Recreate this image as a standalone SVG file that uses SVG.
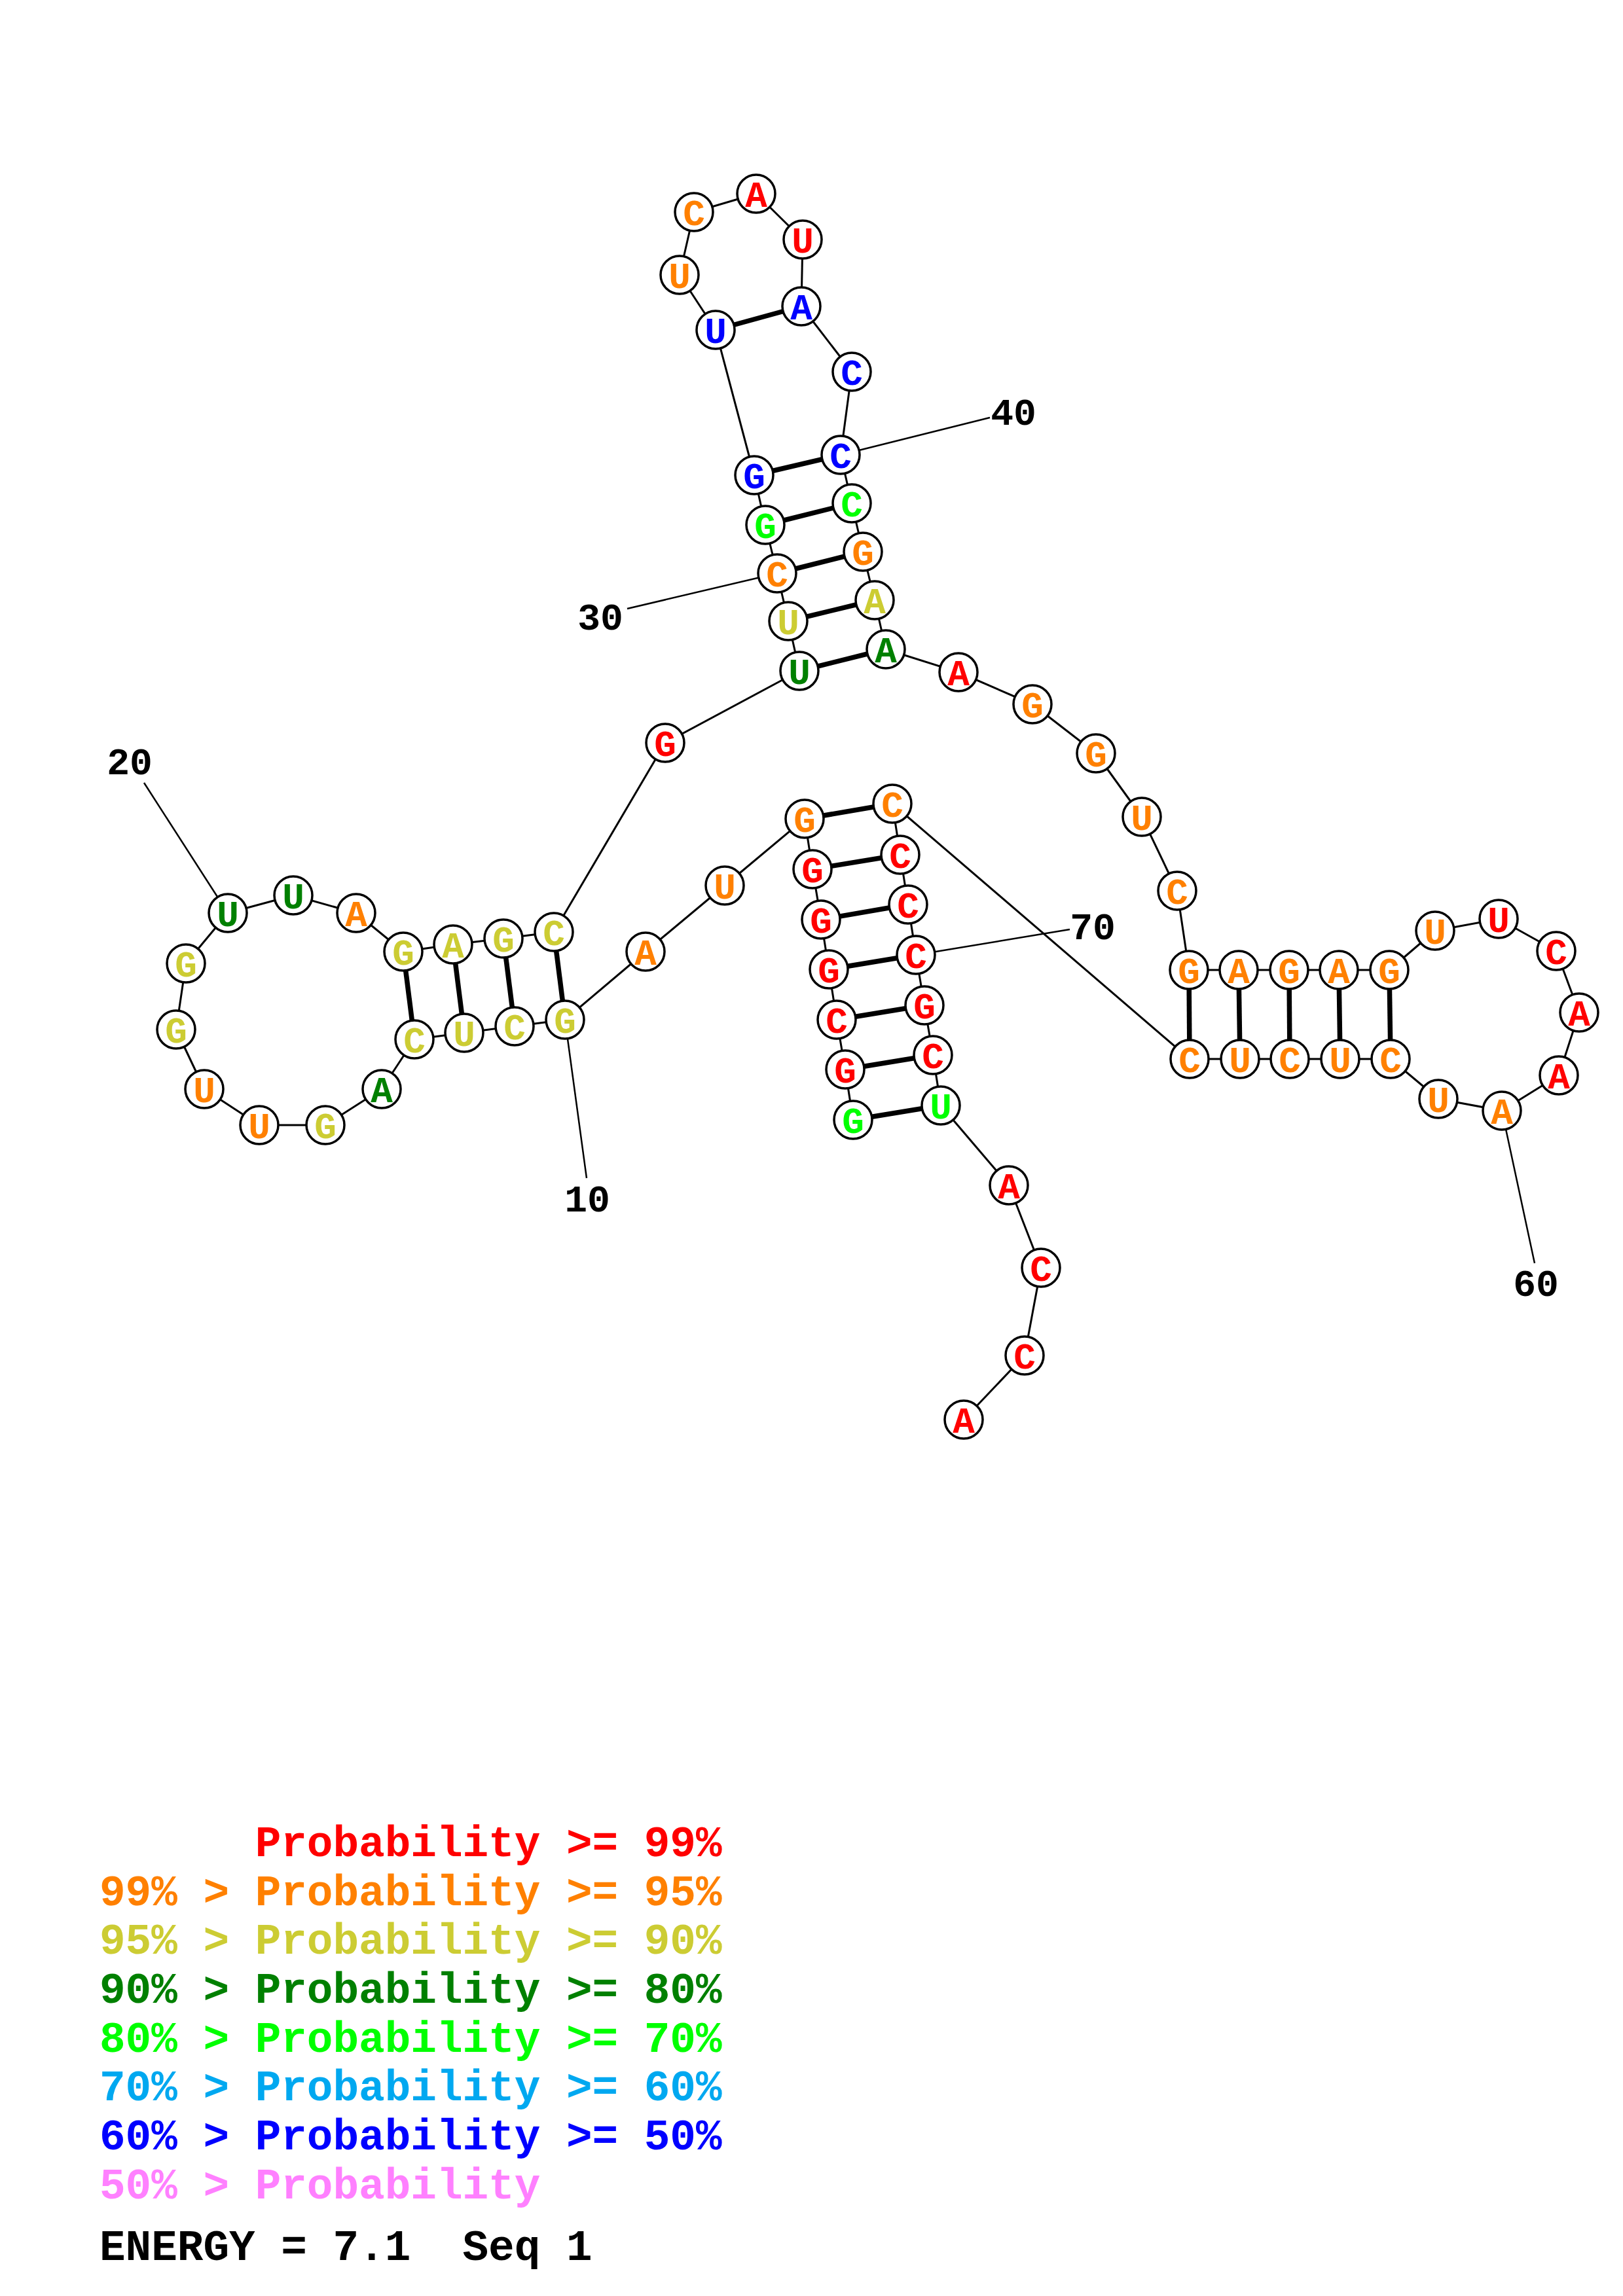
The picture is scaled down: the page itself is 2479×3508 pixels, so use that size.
<svg xmlns="http://www.w3.org/2000/svg" width="2479" height="3508" viewBox="0 0 2479 3508">
<style>
.bb{stroke:#000;stroke-width:3;fill:none}
.pr{stroke:#000;stroke-width:7.5;fill:none}
.lb{stroke:#000;stroke-width:2.5;fill:none}
circle{fill:#fff;stroke:#000;stroke-width:3.5}
.nt{font-family:"Liberation Mono","DejaVu Sans Mono",monospace;font-weight:bold;font-size:56px;text-anchor:middle}
.num{font-family:"Liberation Mono","DejaVu Sans Mono",monospace;font-weight:bold;font-size:58px;text-anchor:middle;fill:#000}
.lg{font-family:"Liberation Mono","DejaVu Sans Mono",monospace;font-weight:bold;font-size:66px}
.r{fill:#ff0000}.o{fill:#ff8000}.y{fill:#cccc33}.dg{fill:#008000}.lm{fill:#00ff00}.lbl{fill:#00a8f0}.b{fill:#0000ff}.p{fill:#ff80ff}.k{fill:#000}
</style>
<rect x="0" y="0" width="2479" height="3508" fill="#fff"/>
<g id="connectors">
<line class="bb" x1="1303" y1="1711" x2="1291" y2="1634"/>
<line class="bb" x1="1291" y1="1634" x2="1278" y2="1558"/>
<line class="bb" x1="1278" y1="1558" x2="1266" y2="1481"/>
<line class="bb" x1="1266" y1="1481" x2="1254" y2="1405"/>
<line class="bb" x1="1254" y1="1405" x2="1241" y2="1328"/>
<line class="bb" x1="1241" y1="1328" x2="1229" y2="1251"/>
<line class="bb" x1="1229" y1="1251" x2="1107" y2="1353"/>
<line class="bb" x1="1107" y1="1353" x2="986" y2="1454"/>
<line class="bb" x1="986" y1="1454" x2="863" y2="1558"/>
<line class="bb" x1="863" y1="1558" x2="786" y2="1568"/>
<line class="bb" x1="786" y1="1568" x2="709" y2="1578"/>
<line class="bb" x1="709" y1="1578" x2="633" y2="1588"/>
<line class="bb" x1="633" y1="1588" x2="583" y2="1664"/>
<line class="bb" x1="583" y1="1664" x2="497" y2="1719"/>
<line class="bb" x1="497" y1="1719" x2="396" y2="1719"/>
<line class="bb" x1="396" y1="1719" x2="312" y2="1664"/>
<line class="bb" x1="312" y1="1664" x2="269" y2="1573"/>
<line class="bb" x1="269" y1="1573" x2="284" y2="1472"/>
<line class="bb" x1="284" y1="1472" x2="348" y2="1395"/>
<line class="bb" x1="348" y1="1395" x2="448" y2="1368"/>
<line class="bb" x1="448" y1="1368" x2="544" y2="1395"/>
<line class="bb" x1="544" y1="1395" x2="616" y2="1454"/>
<line class="bb" x1="616" y1="1454" x2="692" y2="1443"/>
<line class="bb" x1="692" y1="1443" x2="769" y2="1434"/>
<line class="bb" x1="769" y1="1434" x2="846" y2="1424"/>
<line class="bb" x1="846" y1="1424" x2="1016" y2="1135"/>
<line class="bb" x1="1016" y1="1135" x2="1221" y2="1025"/>
<line class="bb" x1="1221" y1="1025" x2="1204" y2="949"/>
<line class="bb" x1="1204" y1="949" x2="1187" y2="876"/>
<line class="bb" x1="1187" y1="876" x2="1169" y2="802"/>
<line class="bb" x1="1169" y1="802" x2="1152" y2="726"/>
<line class="bb" x1="1152" y1="726" x2="1093" y2="504"/>
<line class="bb" x1="1093" y1="504" x2="1038" y2="420"/>
<line class="bb" x1="1038" y1="420" x2="1060" y2="324"/>
<line class="bb" x1="1060" y1="324" x2="1155" y2="296"/>
<line class="bb" x1="1155" y1="296" x2="1226" y2="366"/>
<line class="bb" x1="1226" y1="366" x2="1224" y2="468"/>
<line class="bb" x1="1224" y1="468" x2="1301" y2="568"/>
<line class="bb" x1="1301" y1="568" x2="1284" y2="695"/>
<line class="bb" x1="1284" y1="695" x2="1301" y2="769"/>
<line class="bb" x1="1301" y1="769" x2="1318" y2="843"/>
<line class="bb" x1="1318" y1="843" x2="1336" y2="917"/>
<line class="bb" x1="1336" y1="917" x2="1353" y2="992"/>
<line class="bb" x1="1353" y1="992" x2="1464" y2="1027"/>
<line class="bb" x1="1464" y1="1027" x2="1577" y2="1076"/>
<line class="bb" x1="1577" y1="1076" x2="1674" y2="1151"/>
<line class="bb" x1="1674" y1="1151" x2="1744" y2="1248"/>
<line class="bb" x1="1744" y1="1248" x2="1798" y2="1361"/>
<line class="bb" x1="1798" y1="1361" x2="1816" y2="1482"/>
<line class="bb" x1="1816" y1="1482" x2="1892" y2="1482"/>
<line class="bb" x1="1892" y1="1482" x2="1969" y2="1482"/>
<line class="bb" x1="1969" y1="1482" x2="2045" y2="1482"/>
<line class="bb" x1="2045" y1="1482" x2="2122" y2="1482"/>
<line class="bb" x1="2122" y1="1482" x2="2192" y2="1422"/>
<line class="bb" x1="2192" y1="1422" x2="2289" y2="1404"/>
<line class="bb" x1="2289" y1="1404" x2="2377" y2="1453"/>
<line class="bb" x1="2377" y1="1453" x2="2412" y2="1547"/>
<line class="bb" x1="2412" y1="1547" x2="2381" y2="1643"/>
<line class="bb" x1="2381" y1="1643" x2="2294" y2="1697"/>
<line class="bb" x1="2294" y1="1697" x2="2197" y2="1679"/>
<line class="bb" x1="2197" y1="1679" x2="2124" y2="1618"/>
<line class="bb" x1="2124" y1="1618" x2="2047" y2="1618"/>
<line class="bb" x1="2047" y1="1618" x2="1970" y2="1618"/>
<line class="bb" x1="1970" y1="1618" x2="1894" y2="1618"/>
<line class="bb" x1="1894" y1="1618" x2="1817" y2="1618"/>
<line class="bb" x1="1817" y1="1618" x2="1363" y2="1228"/>
<line class="bb" x1="1363" y1="1228" x2="1375" y2="1306"/>
<line class="bb" x1="1375" y1="1306" x2="1387" y2="1382"/>
<line class="bb" x1="1387" y1="1382" x2="1399" y2="1459"/>
<line class="bb" x1="1399" y1="1459" x2="1412" y2="1536"/>
<line class="bb" x1="1412" y1="1536" x2="1425" y2="1612"/>
<line class="bb" x1="1425" y1="1612" x2="1437" y2="1689"/>
<line class="bb" x1="1437" y1="1689" x2="1541" y2="1811"/>
<line class="bb" x1="1541" y1="1811" x2="1590" y2="1937"/>
<line class="bb" x1="1590" y1="1937" x2="1565" y2="2071"/>
<line class="bb" x1="1565" y1="2071" x2="1472" y2="2169"/>
<line class="pr" x1="1303" y1="1711" x2="1437" y2="1689"/>
<line class="pr" x1="1291" y1="1634" x2="1425" y2="1612"/>
<line class="pr" x1="1278" y1="1558" x2="1412" y2="1536"/>
<line class="pr" x1="1266" y1="1481" x2="1399" y2="1459"/>
<line class="pr" x1="1254" y1="1405" x2="1387" y2="1382"/>
<line class="pr" x1="1241" y1="1328" x2="1375" y2="1306"/>
<line class="pr" x1="1229" y1="1251" x2="1363" y2="1228"/>
<line class="pr" x1="863" y1="1558" x2="846" y2="1424"/>
<line class="pr" x1="786" y1="1568" x2="769" y2="1434"/>
<line class="pr" x1="709" y1="1578" x2="692" y2="1443"/>
<line class="pr" x1="633" y1="1588" x2="616" y2="1454"/>
<line class="pr" x1="1221" y1="1025" x2="1353" y2="992"/>
<line class="pr" x1="1204" y1="949" x2="1336" y2="917"/>
<line class="pr" x1="1187" y1="876" x2="1318" y2="843"/>
<line class="pr" x1="1169" y1="802" x2="1301" y2="769"/>
<line class="pr" x1="1152" y1="726" x2="1284" y2="695"/>
<line class="pr" x1="1093" y1="504" x2="1224" y2="468"/>
<line class="pr" x1="1816" y1="1482" x2="1817" y2="1618"/>
<line class="pr" x1="1892" y1="1482" x2="1894" y2="1618"/>
<line class="pr" x1="1969" y1="1482" x2="1970" y2="1618"/>
<line class="pr" x1="2045" y1="1482" x2="2047" y2="1618"/>
<line class="pr" x1="2122" y1="1482" x2="2124" y2="1618"/>
<line class="lb" x1="863" y1="1558" x2="896" y2="1800"/>
<line class="lb" x1="348" y1="1395" x2="220" y2="1196"/>
<line class="lb" x1="1187" y1="876" x2="958" y2="930"/>
<line class="lb" x1="1284" y1="695" x2="1512" y2="638"/>
<line class="lb" x1="2294" y1="1697" x2="2344" y2="1930"/>
<line class="lb" x1="1399" y1="1459" x2="1634" y2="1420"/>
</g>
<g id="n1"><circle cx="1303" cy="1711" r="29"/><text class="nt lm" x="1303" y="1731">G</text></g>
<g id="n2"><circle cx="1291" cy="1634" r="29"/><text class="nt r" x="1291" y="1654">G</text></g>
<g id="n3"><circle cx="1278" cy="1558" r="29"/><text class="nt r" x="1278" y="1578">C</text></g>
<g id="n4"><circle cx="1266" cy="1481" r="29"/><text class="nt r" x="1266" y="1501">G</text></g>
<g id="n5"><circle cx="1254" cy="1405" r="29"/><text class="nt r" x="1254" y="1425">G</text></g>
<g id="n6"><circle cx="1241" cy="1328" r="29"/><text class="nt r" x="1241" y="1348">G</text></g>
<g id="n7"><circle cx="1229" cy="1251" r="29"/><text class="nt o" x="1229" y="1271">G</text></g>
<g id="n8"><circle cx="1107" cy="1353" r="29"/><text class="nt o" x="1107" y="1373">U</text></g>
<g id="n9"><circle cx="986" cy="1454" r="29"/><text class="nt o" x="986" y="1474">A</text></g>
<g id="n10"><circle cx="863" cy="1558" r="29"/><text class="nt y" x="863" y="1578">G</text></g>
<g id="n11"><circle cx="786" cy="1568" r="29"/><text class="nt y" x="786" y="1588">C</text></g>
<g id="n12"><circle cx="709" cy="1578" r="29"/><text class="nt y" x="709" y="1598">U</text></g>
<g id="n13"><circle cx="633" cy="1588" r="29"/><text class="nt y" x="633" y="1608">C</text></g>
<g id="n14"><circle cx="583" cy="1664" r="29"/><text class="nt dg" x="583" y="1684">A</text></g>
<g id="n15"><circle cx="497" cy="1719" r="29"/><text class="nt y" x="497" y="1739">G</text></g>
<g id="n16"><circle cx="396" cy="1719" r="29"/><text class="nt o" x="396" y="1739">U</text></g>
<g id="n17"><circle cx="312" cy="1664" r="29"/><text class="nt o" x="312" y="1684">U</text></g>
<g id="n18"><circle cx="269" cy="1573" r="29"/><text class="nt y" x="269" y="1593">G</text></g>
<g id="n19"><circle cx="284" cy="1472" r="29"/><text class="nt y" x="284" y="1492">G</text></g>
<g id="n20"><circle cx="348" cy="1395" r="29"/><text class="nt dg" x="348" y="1415">U</text></g>
<g id="n21"><circle cx="448" cy="1368" r="29"/><text class="nt dg" x="448" y="1388">U</text></g>
<g id="n22"><circle cx="544" cy="1395" r="29"/><text class="nt o" x="544" y="1415">A</text></g>
<g id="n23"><circle cx="616" cy="1454" r="29"/><text class="nt y" x="616" y="1474">G</text></g>
<g id="n24"><circle cx="692" cy="1443" r="29"/><text class="nt y" x="692" y="1463">A</text></g>
<g id="n25"><circle cx="769" cy="1434" r="29"/><text class="nt y" x="769" y="1454">G</text></g>
<g id="n26"><circle cx="846" cy="1424" r="29"/><text class="nt y" x="846" y="1444">C</text></g>
<g id="n27"><circle cx="1016" cy="1135" r="29"/><text class="nt r" x="1016" y="1155">G</text></g>
<g id="n28"><circle cx="1221" cy="1025" r="29"/><text class="nt dg" x="1221" y="1045">U</text></g>
<g id="n29"><circle cx="1204" cy="949" r="29"/><text class="nt y" x="1204" y="969">U</text></g>
<g id="n30"><circle cx="1187" cy="876" r="29"/><text class="nt o" x="1187" y="896">C</text></g>
<g id="n31"><circle cx="1169" cy="802" r="29"/><text class="nt lm" x="1169" y="822">G</text></g>
<g id="n32"><circle cx="1152" cy="726" r="29"/><text class="nt b" x="1152" y="746">G</text></g>
<g id="n33"><circle cx="1093" cy="504" r="29"/><text class="nt b" x="1093" y="524">U</text></g>
<g id="n34"><circle cx="1038" cy="420" r="29"/><text class="nt o" x="1038" y="440">U</text></g>
<g id="n35"><circle cx="1060" cy="324" r="29"/><text class="nt o" x="1060" y="344">C</text></g>
<g id="n36"><circle cx="1155" cy="296" r="29"/><text class="nt r" x="1155" y="316">A</text></g>
<g id="n37"><circle cx="1226" cy="366" r="29"/><text class="nt r" x="1226" y="386">U</text></g>
<g id="n38"><circle cx="1224" cy="468" r="29"/><text class="nt b" x="1224" y="488">A</text></g>
<g id="n39"><circle cx="1301" cy="568" r="29"/><text class="nt b" x="1301" y="588">C</text></g>
<g id="n40"><circle cx="1284" cy="695" r="29"/><text class="nt b" x="1284" y="715">C</text></g>
<g id="n41"><circle cx="1301" cy="769" r="29"/><text class="nt lm" x="1301" y="789">C</text></g>
<g id="n42"><circle cx="1318" cy="843" r="29"/><text class="nt o" x="1318" y="863">G</text></g>
<g id="n43"><circle cx="1336" cy="917" r="29"/><text class="nt y" x="1336" y="937">A</text></g>
<g id="n44"><circle cx="1353" cy="992" r="29"/><text class="nt dg" x="1353" y="1012">A</text></g>
<g id="n45"><circle cx="1464" cy="1027" r="29"/><text class="nt r" x="1464" y="1047">A</text></g>
<g id="n46"><circle cx="1577" cy="1076" r="29"/><text class="nt o" x="1577" y="1096">G</text></g>
<g id="n47"><circle cx="1674" cy="1151" r="29"/><text class="nt o" x="1674" y="1171">G</text></g>
<g id="n48"><circle cx="1744" cy="1248" r="29"/><text class="nt o" x="1744" y="1268">U</text></g>
<g id="n49"><circle cx="1798" cy="1361" r="29"/><text class="nt o" x="1798" y="1381">C</text></g>
<g id="n50"><circle cx="1816" cy="1482" r="29"/><text class="nt o" x="1816" y="1502">G</text></g>
<g id="n51"><circle cx="1892" cy="1482" r="29"/><text class="nt o" x="1892" y="1502">A</text></g>
<g id="n52"><circle cx="1969" cy="1482" r="29"/><text class="nt o" x="1969" y="1502">G</text></g>
<g id="n53"><circle cx="2045" cy="1482" r="29"/><text class="nt o" x="2045" y="1502">A</text></g>
<g id="n54"><circle cx="2122" cy="1482" r="29"/><text class="nt o" x="2122" y="1502">G</text></g>
<g id="n55"><circle cx="2192" cy="1422" r="29"/><text class="nt o" x="2192" y="1442">U</text></g>
<g id="n56"><circle cx="2289" cy="1404" r="29"/><text class="nt r" x="2289" y="1424">U</text></g>
<g id="n57"><circle cx="2377" cy="1453" r="29"/><text class="nt r" x="2377" y="1473">C</text></g>
<g id="n58"><circle cx="2412" cy="1547" r="29"/><text class="nt r" x="2412" y="1567">A</text></g>
<g id="n59"><circle cx="2381" cy="1643" r="29"/><text class="nt r" x="2381" y="1663">A</text></g>
<g id="n60"><circle cx="2294" cy="1697" r="29"/><text class="nt o" x="2294" y="1717">A</text></g>
<g id="n61"><circle cx="2197" cy="1679" r="29"/><text class="nt o" x="2197" y="1699">U</text></g>
<g id="n62"><circle cx="2124" cy="1618" r="29"/><text class="nt o" x="2124" y="1638">C</text></g>
<g id="n63"><circle cx="2047" cy="1618" r="29"/><text class="nt o" x="2047" y="1638">U</text></g>
<g id="n64"><circle cx="1970" cy="1618" r="29"/><text class="nt o" x="1970" y="1638">C</text></g>
<g id="n65"><circle cx="1894" cy="1618" r="29"/><text class="nt o" x="1894" y="1638">U</text></g>
<g id="n66"><circle cx="1817" cy="1618" r="29"/><text class="nt o" x="1817" y="1638">C</text></g>
<g id="n67"><circle cx="1363" cy="1228" r="29"/><text class="nt o" x="1363" y="1248">C</text></g>
<g id="n68"><circle cx="1375" cy="1306" r="29"/><text class="nt r" x="1375" y="1326">C</text></g>
<g id="n69"><circle cx="1387" cy="1382" r="29"/><text class="nt r" x="1387" y="1402">C</text></g>
<g id="n70"><circle cx="1399" cy="1459" r="29"/><text class="nt r" x="1399" y="1479">C</text></g>
<g id="n71"><circle cx="1412" cy="1536" r="29"/><text class="nt r" x="1412" y="1556">G</text></g>
<g id="n72"><circle cx="1425" cy="1612" r="29"/><text class="nt r" x="1425" y="1632">C</text></g>
<g id="n73"><circle cx="1437" cy="1689" r="29"/><text class="nt lm" x="1437" y="1709">U</text></g>
<g id="n74"><circle cx="1541" cy="1811" r="29"/><text class="nt r" x="1541" y="1831">A</text></g>
<g id="n75"><circle cx="1590" cy="1937" r="29"/><text class="nt r" x="1590" y="1957">C</text></g>
<g id="n76"><circle cx="1565" cy="2071" r="29"/><text class="nt r" x="1565" y="2091">C</text></g>
<g id="n77"><circle cx="1472" cy="2169" r="29"/><text class="nt r" x="1472" y="2189">A</text></g>
<g id="labels">
<text class="num" x="897" y="1851">10</text>
<text class="num" x="198" y="1183">20</text>
<text class="num" x="917" y="962">30</text>
<text class="num" x="1548" y="649">40</text>
<text class="num" x="2346" y="1980">60</text>
<text class="num" x="1669" y="1435">70</text>
</g>
<g id="legend">
<text class="lg r" x="152" y="2836" xml:space="preserve">      Probability &gt;= 99%</text>
<text class="lg o" x="152" y="2911" xml:space="preserve">99% &gt; Probability &gt;= 95%</text>
<text class="lg y" x="152" y="2985" xml:space="preserve">95% &gt; Probability &gt;= 90%</text>
<text class="lg dg" x="152" y="3060" xml:space="preserve">90% &gt; Probability &gt;= 80%</text>
<text class="lg lm" x="152" y="3135" xml:space="preserve">80% &gt; Probability &gt;= 70%</text>
<text class="lg lbl" x="152" y="3209" xml:space="preserve">70% &gt; Probability &gt;= 60%</text>
<text class="lg b" x="152" y="3284" xml:space="preserve">60% &gt; Probability &gt;= 50%</text>
<text class="lg p" x="152" y="3359" xml:space="preserve">50% &gt; Probability</text>
<text class="lg k" x="152" y="3453" xml:space="preserve">ENERGY = 7.1  Seq 1</text>
</g>
</svg>
